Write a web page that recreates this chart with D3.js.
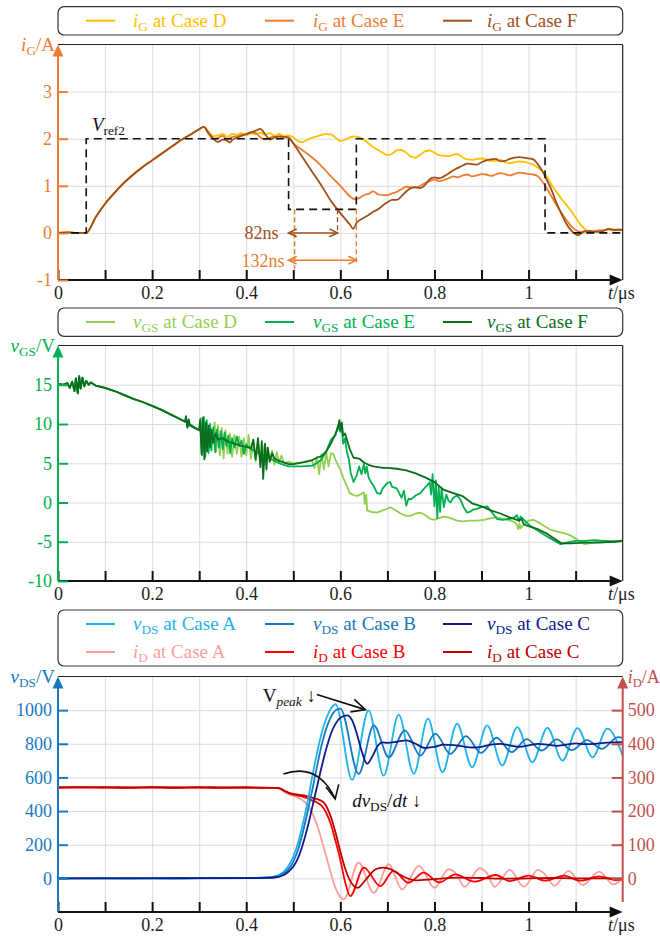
<!DOCTYPE html>
<html lang="en">
<head>
    <meta charset="UTF-8">
    <title>Gate current, gate voltage and switching waveforms</title>
    <style>
        body { margin: 0; background: #fff; }
        svg, svg text, svg tspan { font-family: "Liberation Serif", "DejaVu Serif", "Times New Roman", serif !important; }
        .grid line { stroke: #dcdcdc; stroke-width: 1; }
        .grid .domain { display: none; }
    </style>
</head>
<body>

<svg width="660" height="937" font-family="Liberation Serif"></svg>

<script src="https://cdn.jsdelivr.net/npm/d3@7"></script>
<script>

    // ---------------- data ----------------

    const timeTicks = [0, 0.1, 0.2, 0.3, 0.4, 0.5, 0.6, 0.7, 0.8, 0.9, 1, 1.1];
    const timeLabels = [0, 0.2, 0.4, 0.6, 0.8, 1];

    // panel 1 : gate current iG (A)
    const iGTicks = [-1, 0, 1, 2, 3];
    const iGGrid = [0, 1, 2, 3];
    const iGCases = ['D', 'E', 'F'];

    const iGRise = [[0, 0], [0.02, 0.01], [0.04, 0], [0.06, 0], [0.08, 0.33], [0.1, 0.62], [0.12, 0.85],
        [0.14, 1.06], [0.16, 1.24], [0.18, 1.4], [0.2, 1.54], [0.22, 1.68], [0.24, 1.82], [0.26, 1.96],
        [0.28, 2.08], [0.3, 2.2], [0.31, 2.25]];

    const iG_D = iGRise.concat([[0.32, 2.15], [0.33, 2.05], [0.34, 2.07], [0.35, 2.1], [0.36, 2.04], [0.37, 2.1],
        [0.38, 2.08], [0.39, 2.12], [0.4, 2.07], [0.41, 2.12], [0.42, 2.1], [0.43, 2.13], [0.44, 2.08], [0.45, 2.12],
        [0.46, 2.06], [0.47, 2.1], [0.48, 2.05], [0.49, 2.07], [0.5, 2.03], [0.51, 1.95], [0.52, 1.93], [0.53, 1.98],
        [0.54, 2.02], [0.55, 2.05], [0.56, 2.08], [0.57, 2.1], [0.58, 2.09], [0.59, 2.02], [0.6, 1.95], [0.61, 1.98],
        [0.62, 2.03], [0.63, 2.05], [0.64, 2.03], [0.65, 1.97], [0.66, 1.9], [0.67, 1.82], [0.68, 1.76], [0.69, 1.7],
        [0.7, 1.65], [0.71, 1.68], [0.72, 1.75], [0.73, 1.76], [0.74, 1.7], [0.75, 1.62], [0.76, 1.6], [0.77, 1.66],
        [0.78, 1.73], [0.79, 1.75], [0.8, 1.7], [0.81, 1.65], [0.82, 1.64], [0.83, 1.63], [0.84, 1.66], [0.85, 1.67],
        [0.86, 1.6], [0.87, 1.56], [0.88, 1.55], [0.89, 1.57], [0.9, 1.58], [0.91, 1.56], [0.92, 1.53], [0.93, 1.53],
        [0.94, 1.55], [0.95, 1.5], [0.96, 1.48], [0.97, 1.5], [0.98, 1.52], [0.99, 1.51], [1.0, 1.48], [1.01, 1.45],
        [1.02, 1.38], [1.03, 1.3], [1.04, 1.18], [1.05, 1.0], [1.06, 0.86], [1.07, 0.72], [1.08, 0.6], [1.09, 0.47],
        [1.1, 0.33], [1.11, 0.18], [1.12, 0.08], [1.13, 0.03], [1.14, 0.02], [1.15, 0.04], [1.16, 0.06], [1.17, 0.07],
        [1.18, 0.05], [1.19, 0.06], [1.2, 0.05]]);

    const iG_E = iGRise.concat([[0.32, 2.1], [0.33, 2.0], [0.34, 2.02], [0.35, 2.06], [0.36, 1.98], [0.37, 2.04],
        [0.38, 2.05], [0.39, 2.08], [0.4, 2.1], [0.41, 2.14], [0.42, 2.12], [0.43, 2.03], [0.44, 1.98], [0.45, 2.02],
        [0.46, 2.05], [0.47, 2.0], [0.48, 2.03], [0.49, 2.02], [0.5, 1.9], [0.52, 1.75], [0.54, 1.6], [0.56, 1.42],
        [0.58, 1.2], [0.6, 1.0], [0.62, 0.78], [0.63, 0.72], [0.64, 0.74], [0.65, 0.8], [0.66, 0.83], [0.67, 0.88],
        [0.68, 0.82], [0.69, 0.8], [0.7, 0.8], [0.71, 0.84], [0.72, 0.87], [0.73, 0.93], [0.74, 0.98], [0.75, 0.97],
        [0.76, 0.96], [0.77, 1.0], [0.78, 1.06], [0.79, 1.1], [0.8, 1.13], [0.81, 1.1], [0.82, 1.12], [0.83, 1.16],
        [0.84, 1.2], [0.85, 1.18], [0.86, 1.22], [0.87, 1.24], [0.88, 1.2], [0.89, 1.22], [0.9, 1.25], [0.91, 1.24],
        [0.92, 1.21], [0.93, 1.24], [0.94, 1.27], [0.95, 1.25], [0.96, 1.22], [0.97, 1.25], [0.98, 1.28], [0.99, 1.27],
        [1.0, 1.25], [1.01, 1.24], [1.02, 1.2], [1.03, 1.08], [1.04, 0.92], [1.05, 0.75], [1.06, 0.58], [1.07, 0.42],
        [1.08, 0.28], [1.09, 0.15], [1.1, 0.06], [1.11, 0.02], [1.12, 0.04], [1.13, 0.01], [1.14, 0.03], [1.15, 0.06],
        [1.16, 0.05], [1.17, 0.09], [1.18, 0.06], [1.19, 0.08], [1.2, 0.06]]);

    const iG_F = iGRise.concat([[0.32, 2.12], [0.33, 2.0], [0.34, 1.93], [0.35, 1.98], [0.36, 1.95], [0.365, 1.92],
        [0.37, 1.97], [0.38, 2.02], [0.39, 2.06], [0.4, 2.1], [0.41, 2.13], [0.42, 2.17], [0.43, 2.21], [0.44, 2.1],
        [0.45, 1.98], [0.46, 2.03], [0.47, 2.05], [0.48, 2.04], [0.49, 2.03], [0.5, 1.9], [0.52, 1.6], [0.54, 1.3],
        [0.56, 1.0], [0.58, 0.68], [0.6, 0.42], [0.62, 0.18], [0.627, 0.09], [0.635, 0.22], [0.65, 0.32], [0.66, 0.38],
        [0.67, 0.45], [0.68, 0.5], [0.69, 0.58], [0.7, 0.65], [0.71, 0.7], [0.72, 0.7], [0.73, 0.78], [0.74, 0.88],
        [0.75, 0.95], [0.76, 0.97], [0.77, 0.95], [0.78, 1.02], [0.79, 1.14], [0.8, 1.18], [0.81, 1.16], [0.82, 1.2],
        [0.83, 1.26], [0.84, 1.33], [0.85, 1.38], [0.86, 1.43], [0.87, 1.47], [0.88, 1.46], [0.89, 1.45], [0.9, 1.5],
        [0.91, 1.54], [0.92, 1.56], [0.93, 1.57], [0.94, 1.52], [0.95, 1.53], [0.96, 1.57], [0.97, 1.6], [0.98, 1.61],
        [0.99, 1.6], [1.0, 1.58], [1.01, 1.56], [1.02, 1.45], [1.03, 1.3], [1.04, 1.1], [1.05, 0.88], [1.06, 0.62],
        [1.07, 0.4], [1.08, 0.2], [1.09, 0.06], [1.1, -0.03], [1.105, -0.05], [1.11, -0.02], [1.12, 0.03], [1.13, 0.04],
        [1.14, 0.03], [1.15, 0.02], [1.16, 0.05], [1.17, 0.08], [1.18, 0.07], [1.19, 0.06], [1.2, 0.07]]);

    const vRef2 = [[0, 0], [0.06, 0], [0.06, 2], [0.49, 2], [0.49, 0.5], [0.634, 0.5], [0.634, 2],
        [1.035, 2], [1.035, 0], [1.2, 0]];

    // delay markers: start time, end times, arrow levels, labels
    const delayStart = 0.49;
    const delayEnds = [0.594, 0.634];
    const delayLevels = [0, -0.58];
    const delayLabels = ['82ns', '132ns'];
    const delayGuides = [[0.503, 0.5, -0.76], [0.594, 0.5, -0.02], [0.634, 0.5, -0.64]];

    // panel 2 : gate-source voltage vGS (V)
    const vGSTicks = [-10, -5, 0, 5, 10, 15];
    const vGSGrid = [-5, 0, 5, 10, 15];
    const vGSCases = ['D', 'E', 'F'];

    const vGSStart = [[0, 15.1], [0.01, 15], [0.02, 15.2], [0.025, 14.6], [0.03, 15.4], [0.035, 14.2],
        [0.038, 15.8], [0.042, 13.9], [0.045, 16.1], [0.048, 14.5], [0.052, 15.9], [0.056, 14.8], [0.06, 15.5],
        [0.065, 15], [0.07, 15.3], [0.08, 14.9], [0.1, 14.6], [0.12, 14.2], [0.14, 13.7], [0.16, 13.2],
        [0.18, 12.8], [0.2, 12.3], [0.22, 11.8], [0.24, 11.2], [0.26, 10.6], [0.27, 10.3]];

    const vGS_D = vGSStart.concat([[0.272, 10.5], [0.28, 9.9], [0.29, 9.6], [0.3, 9.2], [0.31, 8.9], [0.32, 8.6],
        [0.33, 8.3], [0.333, 10.2], [0.336, 6.5], [0.34, 9.8], [0.344, 6], [0.348, 9.5], [0.352, 5.6], [0.356, 9.2],
        [0.36, 6.2], [0.365, 8.8], [0.37, 5.8], [0.375, 8.6], [0.38, 6.2], [0.385, 8.4], [0.39, 5.8], [0.395, 8.2],
        [0.4, 6], [0.405, 8.6], [0.41, 5.6], [0.415, 7.8], [0.42, 5.2], [0.425, 7.6], [0.43, 5.4], [0.435, 7.2],
        [0.44, 4.8], [0.445, 7], [0.45, 5.2], [0.455, 6.6], [0.46, 4.8], [0.465, 6.4], [0.47, 5], [0.475, 6],
        [0.48, 5], [0.49, 5.2], [0.5, 5], [0.51, 5], [0.52, 5.1], [0.53, 5.2], [0.54, 5.3], [0.545, 4.4], [0.55, 5.8],
        [0.555, 3.6], [0.56, 6.2], [0.565, 4.2], [0.57, 6.4], [0.575, 4.6], [0.58, 6.3], [0.585, 6.2], [0.59, 5.4],
        [0.6, 4.2], [0.607, 3.0], [0.614, 2.1], [0.62, 1.2], [0.63, 0.9], [0.636, 0.85], [0.645, 1.1], [0.65, 1.3],
        [0.652, -0.2], [0.655, 1.0], [0.657, -1.0], [0.665, -1.2], [0.678, -1.3], [0.69, -1.0], [0.7, -0.8],
        [0.706, -0.6], [0.715, -0.9], [0.728, -1.4], [0.74, -1.7], [0.749, -1.7], [0.76, -1.4], [0.77, -1.3],
        [0.78, -1.6], [0.791, -2.1], [0.8, -2.2], [0.81, -2.0], [0.82, -1.8], [0.83, -1.9], [0.848, -2.3],
        [0.86, -2.4], [0.876, -2.3], [0.89, -2.3], [0.905, -2.2], [0.92, -2.0], [0.933, -1.9], [0.945, -2.1],
        [0.961, -2.3], [0.97, -2.5], [0.975, -2.8], [0.978, -3.4], [0.981, -2.7], [0.983, -3.3], [0.99, -2.8],
        [1.0, -2.3], [1.01, -2.2], [1.02, -2.5], [1.033, -3.0], [1.047, -3.5], [1.061, -3.7], [1.075, -3.9],
        [1.089, -4.2], [1.1, -4.6], [1.11, -5.0], [1.118, -5.3], [1.13, -5.2], [1.15, -5.0], [1.17, -4.9],
        [1.19, -5.0], [1.2, -4.8]]);

    const vGS_E = vGSStart.concat([[0.272, 10.8], [0.275, 9.7], [0.28, 10], [0.29, 9.6], [0.3, 9.2], [0.303, 10.7],
        [0.306, 6], [0.31, 10.9], [0.313, 5.8], [0.316, 10.5], [0.32, 6.3], [0.323, 10], [0.326, 6.6], [0.33, 9.6],
        [0.334, 6.4], [0.338, 9.3], [0.342, 7], [0.346, 9.1], [0.35, 6.8], [0.354, 8.9], [0.358, 7.2], [0.362, 8.5],
        [0.366, 6.3], [0.37, 8.2], [0.375, 7], [0.38, 8.4], [0.385, 7.2], [0.39, 7.9], [0.395, 6.2], [0.4, 7.4],
        [0.41, 6.8], [0.42, 6.5], [0.43, 6.2], [0.44, 5.9], [0.45, 5.6], [0.46, 5.3], [0.47, 5], [0.48, 4.8],
        [0.49, 4.6], [0.5, 4.6], [0.52, 4.6], [0.54, 4.7], [0.55, 5], [0.56, 5.5], [0.57, 6.5], [0.58, 8],
        [0.59, 8.6], [0.595, 9.8], [0.6, 9], [0.603, 9.5], [0.606, 7.5], [0.61, 8.2], [0.614, 6.4], [0.618, 5.5],
        [0.622, 3.8], [0.628, 2.6], [0.635, 3.5], [0.64, 4.6], [0.645, 3.6], [0.65, 4.9], [0.653, 3.7], [0.656, 4.6],
        [0.66, 3.2], [0.665, 2.6], [0.671, 2.1], [0.678, 1.2], [0.685, 1.1], [0.69, 1.8], [0.7, 2.5], [0.706, 2.6],
        [0.71, 2.0], [0.72, 1.8], [0.73, 0.6], [0.735, 1.5], [0.74, -0.4], [0.745, 0.5], [0.75, 0.4], [0.76, 0.9],
        [0.77, 1.2], [0.777, 1.7], [0.785, 2.2], [0.79, 2.6], [0.793, 1.0], [0.796, 3.6], [0.8, -0.5], [0.803, 2.8],
        [0.806, -2.0], [0.809, 2.0], [0.812, -1.2], [0.815, 1.8], [0.82, -0.6], [0.825, 1.0], [0.83, 0.2],
        [0.834, 0.0], [0.84, 0.6], [0.848, 0.9], [0.855, 0.4], [0.862, -0.6], [0.869, -1.28], [0.875, -1.2],
        [0.882, -0.9], [0.89, -0.8], [0.9, -0.6], [0.912, -0.5], [0.92, -1.1], [0.933, -2.1], [0.945, -2.2],
        [0.955, -2.1], [0.961, -2.1], [0.97, -1.9], [0.975, -1.6], [0.98, -2.4], [0.983, -1.8], [0.99, -2.2],
        [1.004, -3.0], [1.02, -3.6], [1.033, -4.1], [1.05, -4.7], [1.068, -5.3], [1.08, -5.1], [1.1, -4.9],
        [1.12, -4.9], [1.14, -4.8], [1.16, -4.9], [1.18, -5.0], [1.2, -4.9]]);

    const vGS_F = vGSStart.concat([[0.272, 11], [0.275, 9.5], [0.278, 10.6], [0.28, 9.8], [0.29, 9.5], [0.3, 9.2],
        [0.302, 10.5], [0.305, 6.2], [0.308, 10.8], [0.311, 5.5], [0.314, 10.2], [0.317, 6.5], [0.32, 9.8],
        [0.323, 7], [0.326, 9.3], [0.33, 7.6], [0.335, 8.8], [0.34, 8], [0.35, 8.2], [0.36, 7.8], [0.37, 7.6],
        [0.38, 7.4], [0.39, 7.2], [0.4, 7.1], [0.41, 6.9], [0.415, 8], [0.42, 5.5], [0.425, 8.2], [0.43, 4.5],
        [0.433, 7.8], [0.436, 3], [0.44, 7.5], [0.443, 4.2], [0.446, 7], [0.45, 5.2], [0.455, 6.3], [0.46, 5.6],
        [0.47, 5.3], [0.48, 5.1], [0.49, 4.9], [0.5, 4.9], [0.52, 5.1], [0.54, 5.4], [0.55, 5.7], [0.56, 5.9],
        [0.57, 6.5], [0.58, 7.5], [0.59, 8.8], [0.595, 9.6], [0.598, 10.5], [0.6, 9.2], [0.603, 10.2], [0.606, 8.5],
        [0.61, 8.8], [0.614, 8], [0.62, 6.8], [0.628, 5.7], [0.64, 5.6], [0.65, 5.1], [0.66, 4.8], [0.67, 4.6],
        [0.68, 4.5], [0.69, 4.4], [0.7, 4.4], [0.72, 4.3], [0.74, 4.1], [0.76, 3.7], [0.78, 3.2], [0.8, 2.6],
        [0.82, 1.6], [0.84, 1.2], [0.86, 0.8], [0.88, -0.1], [0.9, -0.5], [0.92, -1.0], [0.94, -1.4], [0.96, -1.9],
        [0.98, -2.3], [0.985, -2.1], [0.99, -2.8], [1.0, -3.0], [1.02, -3.4], [1.04, -4.0], [1.06, -4.8],
        [1.07, -5.2], [1.09, -5.2], [1.12, -5.1], [1.15, -5.1], [1.18, -5.0], [1.2, -4.9]]);

    // panel 3 : drain-source voltage vDS (V) and drain current iD (A)
    const vDSTicks = [0, 200, 400, 600, 800, 1000];
    const iDTicks = [0, 100, 200, 300, 400, 500];
    const dsCases = ['A', 'B', 'C'];

    const vDS_A = [[0, 0], [0.1, 1], [0.2, 0], [0.3, 1], [0.4, 2], [0.44, 5], [0.46, 12], [0.48, 40], [0.49, 75],
        [0.5, 130], [0.51, 210], [0.52, 320], [0.53, 450], [0.54, 600], [0.55, 740], [0.56, 860], [0.57, 950],
        [0.58, 1010], [0.59, 1035], [0.625, 585], [0.66, 999], [0.692, 611], [0.724, 973], [0.756, 621],
        [0.786, 949], [0.817, 631], [0.848, 919], [0.88, 661], [0.912, 909], [0.944, 671], [0.976, 899],
        [1.008, 690], [1.04, 895], [1.072, 700], [1.104, 893], [1.136, 720], [1.167, 890], [1.2, 730]];

    const vDS_B = [[0, 0], [0.1, 0], [0.2, 1], [0.3, 0], [0.4, 2], [0.44, 4], [0.46, 8], [0.48, 30], [0.49, 55],
        [0.5, 100], [0.51, 170], [0.52, 270], [0.53, 390], [0.54, 520], [0.55, 660], [0.56, 790], [0.57, 890],
        [0.58, 960], [0.59, 1000], [0.6, 1009], [0.639, 621], [0.671, 909], [0.703, 720], [0.737, 880],
        [0.77, 730], [0.802, 860], [0.834, 740], [0.867, 845], [0.899, 746], [0.932, 836], [0.964, 750],
        [0.996, 828], [1.028, 760], [1.06, 826], [1.092, 762], [1.124, 822], [1.156, 770], [1.19, 840], [1.2, 835]];

    const vDS_C = [[0, 0], [0.1, 0], [0.2, 0], [0.3, 1], [0.4, 1], [0.44, 3], [0.46, 5], [0.48, 20], [0.49, 40],
        [0.5, 70], [0.51, 120], [0.52, 200], [0.53, 300], [0.54, 420], [0.55, 540], [0.56, 660], [0.57, 770],
        [0.58, 860], [0.59, 920], [0.6, 955], [0.614, 969], [0.625, 940], [0.635, 860], [0.645, 760], [0.657, 681],
        [0.668, 725], [0.68, 790], [0.69, 808], [0.7, 806], [0.72, 812], [0.74, 820], [0.76, 800], [0.78, 775],
        [0.8, 782], [0.82, 795], [0.84, 792], [0.86, 785], [0.88, 778], [0.9, 782], [0.92, 795], [0.94, 800],
        [0.96, 790], [0.98, 782], [1.0, 790], [1.02, 800], [1.04, 795], [1.06, 788], [1.08, 795], [1.1, 802],
        [1.12, 798], [1.14, 800], [1.16, 805], [1.18, 808], [1.2, 810]];

    const iD_A = [[0, 270], [0.05, 272], [0.1, 269], [0.15, 271], [0.2, 270], [0.25, 272], [0.3, 269], [0.35, 271],
        [0.4, 270], [0.46, 269], [0.47, 266], [0.48, 258], [0.49, 250], [0.5, 245], [0.51, 240], [0.52, 232],
        [0.53, 218], [0.54, 195], [0.55, 160], [0.56, 115], [0.57, 65], [0.58, 15], [0.59, -30], [0.6, -55],
        [0.607, -63], [0.639, 47], [0.671, -43], [0.703, 42], [0.731, -33], [0.767, 37], [0.8, -28], [0.83, 27],
        [0.845, 15], [0.864, -25], [0.896, 30], [0.91, 18], [0.928, -25], [0.96, 25], [0.99, -25], [1.02, 25],
        [1.035, 12], [1.055, -22], [1.085, 22], [1.115, -20], [1.15, 20], [1.18, -18], [1.2, 0]];

    const iD_B = [[0, 270], [0.05, 270], [0.1, 271], [0.15, 269], [0.2, 270], [0.25, 270], [0.3, 271], [0.35, 269],
        [0.4, 270], [0.46, 269], [0.47, 268], [0.48, 260], [0.49, 253], [0.5, 249], [0.51, 246], [0.52, 243],
        [0.53, 238], [0.54, 232], [0.55, 226], [0.56, 216], [0.57, 195], [0.58, 160], [0.59, 110], [0.6, 55],
        [0.61, -10], [0.621, -53], [0.65, 32], [0.685, -23], [0.713, 22], [0.745, -13], [0.777, 17], [0.81, -12],
        [0.845, 12], [0.885, -10], [0.93, 10], [0.96, -8], [1.0, 8], [1.035, -7], [1.075, 8], [1.11, -7],
        [1.15, 6], [1.185, -5], [1.2, -3]];

    const iD_C = [[0, 270], [0.05, 271], [0.1, 270], [0.15, 270], [0.2, 271], [0.25, 269], [0.3, 270], [0.35, 270],
        [0.4, 270], [0.46, 269], [0.47, 268], [0.48, 262], [0.49, 255], [0.5, 251], [0.51, 249], [0.52, 247],
        [0.53, 244], [0.54, 240], [0.55, 236], [0.56, 230], [0.565, 225], [0.57, 215], [0.575, 200], [0.58, 182],
        [0.59, 135], [0.6, 80], [0.61, 30], [0.62, -5], [0.637, -28], [0.655, -2], [0.675, 27], [0.69, 32],
        [0.705, 28], [0.73, 8], [0.76, -6], [0.8, -2], [0.85, 2], [0.9, 1], [0.95, -1], [1.0, 0], [1.05, 1],
        [1.1, 0], [1.15, 0], [1.2, 0]];

    // annotation anchors in data units (t, vDS)
    const peakArrow = [[0.550, 1093], [0.653, 1003]];
    const dvdtArrow = [[0.479, 621], [0.553, 690], [0.589, 472]];

    // ---------------- styles / layout ----------------

    const serif = '"Liberation Serif", "DejaVu Serif", serif';

    const lineColors = {
        iG: ['#FFC000', '#ED7D31', '#A0501A'],
        vGS: ['#92D050', '#00B050', '#0A6E1E'],
        vDS: ['#1EB2EE', '#1878C0', '#0B1A8C'],
        iD: ['#FF9C9C', '#FF0000', '#C00000']
    };
    const axisColors = { iG: '#ED7D31', vGS: '#00B050', vDS: '#1878C0', iD: '#C0504D' };

    const plotLeft = 58;
    const plotRight = 622.7;
    const plotHeight = 235.5;
    const legendLineX = [86, 265, 443];
    const legendTextX = [133, 313, 487];

    const svg = d3.select('svg');

    const x = d3.scaleLinear().domain([0, 1.2]).range([plotLeft, plotRight]);

    // writes a text made of parts: [string, kind] with kind containing 'it' and/or 'sub'
    function rich(sel, parts) {
        let shifted = false;
        sel.style('font-family', serif);
        parts.forEach(function (p) {
            const t = sel.append('tspan').text(p[0]);
            const isSub = p[1].indexOf('sub') >= 0;
            if (p[1].indexOf('it') >= 0) t.style('font-style', 'italic');
            if (isSub) t.style('font-size', '70%');
            if (isSub && !shifted) { t.attr('dy', 4); shifted = true; }
            else if (!isSub && shifted) { t.attr('dy', -4); shifted = false; }
        });
        return sel;
    }

    function openHead(g, from, tip, color, len) {
        const a = Math.atan2(tip[1] - from[1], tip[0] - from[0]) + Math.PI;
        const p1 = [tip[0] + len * Math.cos(a - 0.45), tip[1] + len * Math.sin(a - 0.45)];
        const p2 = [tip[0] + len * Math.cos(a + 0.45), tip[1] + len * Math.sin(a + 0.45)];
        g.append('path')
            .attr('d', 'M' + p1 + 'L' + tip + 'L' + p2)
            .attr('fill', 'none')
            .attr('stroke', color)
            .attr('stroke-width', 1.6);
    }

    function drawLegend(top, rows) {
        const h = rows.length === 1 ? 28.3 : 56;
        svg.append('rect')
            .attr('x', plotLeft).attr('y', top)
            .attr('width', plotRight - plotLeft).attr('height', h)
            .attr('rx', 6)
            .attr('fill', '#fff')
            .attr('stroke', '#333')
            .attr('stroke-width', 1.2);
        rows.forEach(function (row, r) {
            const cy = top + 14 + r * 28;
            row.forEach(function (entry, i) {
                svg.append('line')
                    .attr('x1', legendLineX[i]).attr('x2', legendLineX[i] + 29)
                    .attr('y1', cy).attr('y2', cy)
                    .attr('stroke', entry.color)
                    .attr('stroke-width', 2);
                rich(svg.append('text')
                    .attr('x', legendTextX[i]).attr('y', cy + 6)
                    .attr('fill', entry.color)
                    .style('font-size', '19px'), entry.parts);
            });
        });
    }

    function legendRow(symbol, sub, cases, colors) {
        return cases.map(function (c, i) {
            return { color: colors[i], parts: [[symbol, 'it'], [sub, 'sub'], [' at Case ' + c, '']] };
        });
    }

    function addPanel(top, yDomain, gridValues) {
        const bottom = top + plotHeight;
        const y = d3.scaleLinear().domain(yDomain).range([bottom, top]);
        const g = svg.append('g');

        g.append('g')
            .attr('class', 'grid')
            .attr('transform', 'translate(0,' + bottom + ')')
            .call(d3.axisBottom(x).tickValues(timeTicks.slice(1)).tickSize(-plotHeight).tickFormat(''));

        g.append('g')
            .attr('class', 'grid')
            .attr('transform', 'translate(' + plotLeft + ',0)')
            .call(d3.axisLeft(y).tickValues(gridValues).tickSize(-(plotRight - plotLeft)).tickFormat(''));

        return { g: g, y: y, top: top, bottom: bottom };
    }

    function drawSeries(panel, yScale, series, colors, curve) {
        const line = d3.line()
            .x(function (d) { return x(d[0]); })
            .y(function (d) { return yScale(d[1]); })
            .curve(curve);
        series.forEach(function (s, i) {
            panel.g.append('path')
                .datum(s)
                .attr('d', line)
                .attr('fill', 'none')
                .attr('stroke', colors[i])
                .attr('stroke-width', 1.8)
                .attr('stroke-linejoin', 'round');
        });
    }

    function styleAxis(axisG, color, tickWidth) {
        axisG.attr('font-family', null);
        axisG.select('.domain').remove();
        axisG.selectAll('.tick line').attr('stroke', color).attr('stroke-width', tickWidth);
        axisG.selectAll('.tick text').attr('fill', color === '#111' ? '#222' : color)
            .style('font-size', '18px')
            .style('font-family', serif);
    }

    function drawFrame(panel, yTicks, color, titleParts, rightFrame) {
        const g = panel.g;

        // top (and right) frame
        g.append('line')
            .attr('x1', plotLeft).attr('x2', plotRight)
            .attr('y1', panel.top).attr('y2', panel.top)
            .attr('stroke', '#222').attr('stroke-width', 1.2);
        if (rightFrame) {
            g.append('line')
                .attr('x1', plotRight).attr('x2', plotRight)
                .attr('y1', panel.top).attr('y2', panel.bottom)
                .attr('stroke', '#222').attr('stroke-width', 1.2);
        }

        // x axis
        const xAxisG = g.append('g')
            .attr('transform', 'translate(0,' + panel.bottom + ')')
            .call(d3.axisBottom(x)
                .tickValues(timeTicks)
                .tickSize(-10)
                .tickPadding(6)
                .tickFormat(function (d) { return timeLabels.indexOf(d) >= 0 ? String(d) : ''; }));
        styleAxis(xAxisG, '#111', 2);

        g.append('line')
            .attr('x1', plotLeft).attr('x2', plotRight - 10)
            .attr('y1', panel.bottom).attr('y2', panel.bottom)
            .attr('stroke', '#111').attr('stroke-width', 2);
        g.append('path')
            .attr('d', 'M' + plotRight + ',' + panel.bottom + 'L' + (plotRight - 13) + ',' + (panel.bottom - 5.5) +
                'L' + (plotRight - 13) + ',' + (panel.bottom + 5.5) + 'Z')
            .attr('fill', '#111');

        rich(g.append('text')
            .attr('x', 608).attr('y', panel.bottom + 19)
            .attr('fill', '#222')
            .style('font-size', '18px'), [['t', 'it'], ['/\u03bcs', '']]);

        // y axis
        const yAxisG = g.append('g')
            .attr('transform', 'translate(' + plotLeft + ',0)')
            .call(d3.axisLeft(panel.y)
                .tickValues(yTicks)
                .tickSize(-10)
                .tickPadding(6)
                .tickFormat(function (d) { return String(d); }));
        styleAxis(yAxisG, color, 2);

        g.append('line')
            .attr('x1', plotLeft).attr('x2', plotLeft)
            .attr('y1', panel.bottom).attr('y2', panel.top + 10)
            .attr('stroke', color).attr('stroke-width', 2);
        g.append('path')
            .attr('d', 'M' + plotLeft + ',' + panel.top + 'L' + (plotLeft - 5.5) + ',' + (panel.top + 12) +
                'L' + (plotLeft + 5.5) + ',' + (panel.top + 12) + 'Z')
            .attr('fill', color);

        rich(g.append('text')
            .attr('x', 55).attr('y', panel.top + 6)
            .attr('text-anchor', 'end')
            .attr('fill', color)
            .style('font-size', '19px'), titleParts);
    }

    // ---------------- panel 1 : iG ----------------

    drawLegend(6.7, [legendRow('i', 'G', iGCases, lineColors.iG)]);

    const p1 = addPanel(44.5, [-1, 4], iGGrid);
    drawSeries(p1, p1.y, [iG_D, iG_E, iG_F], lineColors.iG, d3.curveMonotoneX);

    p1.g.append('path')
        .datum(vRef2)
        .attr('d', d3.line().x(function (d) { return x(d[0]); }).y(function (d) { return p1.y(d[1]); }))
        .attr('fill', 'none')
        .attr('stroke', '#111')
        .attr('stroke-width', 1.6)
        .attr('stroke-dasharray', '8,5');

    rich(p1.g.append('text')
        .attr('x', x(0.072)).attr('y', p1.y(2) - 7.5)
        .attr('fill', '#111')
        .style('font-size', '19px'), [['V', 'it'], ['ref2', 'sub']]);

    const delayColors = [lineColors.iG[2], lineColors.iG[1]];

    delayGuides.forEach(function (d, i) {
        p1.g.append('line')
            .attr('x1', x(d[0])).attr('x2', x(d[0]))
            .attr('y1', p1.y(d[1])).attr('y2', p1.y(d[2]))
            .attr('stroke', i === 1 ? delayColors[0] : delayColors[1])
            .attr('stroke-width', 1.3)
            .attr('stroke-dasharray', '5,3');
    });

    delayEnds.forEach(function (end, i) {
        const yy = p1.y(delayLevels[i]);
        const a = [x(delayStart), yy];
        const b = [x(end), yy];
        p1.g.append('line')
            .attr('x1', a[0]).attr('x2', b[0])
            .attr('y1', yy).attr('y2', yy)
            .attr('stroke', delayColors[i]).attr('stroke-width', 1.5);
        openHead(p1.g, a, b, delayColors[i], 9);
        openHead(p1.g, b, a, delayColors[i], 9);
        p1.g.append('text')
            .attr('x', a[0] - 10 + i * 6).attr('y', yy + 6.5)
            .attr('text-anchor', 'end')
            .attr('fill', delayColors[i])
            .style('font-size', '18px')
            .style('font-family', serif)
            .text(delayLabels[i]);
    });

    drawFrame(p1, iGTicks, axisColors.iG, [['i', 'it'], ['G', 'sub'], ['/A', '']], true);

    // ---------------- panel 2 : vGS ----------------

    drawLegend(308, [legendRow('v', 'GS', vGSCases, lineColors.vGS)]);

    const p2 = addPanel(345.5, [-10, 20], vGSGrid);
    drawSeries(p2, p2.y, [vGS_D, vGS_E, vGS_F], lineColors.vGS, d3.curveLinear);
    drawFrame(p2, vGSTicks, axisColors.vGS, [['v', 'it'], ['GS', 'sub'], ['/V', '']], true);

    // ---------------- panel 3 : vDS and iD ----------------

    drawLegend(610, [
        legendRow('v', 'DS', dsCases, lineColors.vDS),
        legendRow('i', 'D', dsCases, lineColors.iD)
    ]);

    const p3 = addPanel(676.5, [-200, 1200], vDSTicks);
    const yRight = d3.scaleLinear().domain([-100, 600]).range([p3.bottom, p3.top]);

    drawSeries(p3, yRight, [iD_A, iD_B, iD_C], lineColors.iD, d3.curveMonotoneX);
    drawSeries(p3, p3.y, [vDS_A, vDS_B, vDS_C], lineColors.vDS, d3.curveMonotoneX);

    // V_peak annotation
    const pkA = [x(peakArrow[0][0]), p3.y(peakArrow[0][1])];
    const pkB = [x(peakArrow[1][0]), p3.y(peakArrow[1][1])];
    p3.g.append('line')
        .attr('x1', pkA[0]).attr('y1', pkA[1])
        .attr('x2', pkB[0]).attr('y2', pkB[1])
        .attr('stroke', '#111').attr('stroke-width', 1.6);
    openHead(p3.g, pkA, pkB, '#111', 15);
    rich(p3.g.append('text')
        .attr('x', pkA[0] - 54).attr('y', pkA[1] + 7.5)
        .attr('fill', '#111')
        .style('font-size', '19px'), [['V', ''], ['peak', 'it sub'], [' \u2193', '']]);

    // dv/dt annotation
    const dv = dvdtArrow.map(function (d) { return [x(d[0]), p3.y(d[1])]; });
    p3.g.append('path')
        .attr('d', 'M' + dv[0] + 'Q' + dv[1] + ' ' + dv[2])
        .attr('fill', 'none')
        .attr('stroke', '#111').attr('stroke-width', 1.6);
    openHead(p3.g, [dv[2][0] - 3, dv[2][1] - 14], dv[2], '#111', 15);
    rich(p3.g.append('text')
        .attr('x', dv[2][0] + 17).attr('y', dv[2][1] + 8.5)
        .attr('fill', '#111')
        .style('font-size', '19px'), [['dv', 'it'], ['DS', 'sub'], ['/', ''], ['dt', 'it'], [' \u2193', '']]);

    drawFrame(p3, vDSTicks, axisColors.vDS, [['v', 'it'], ['DS', 'sub'], ['/V', '']], false);

    // right axis for iD
    const rAxisG = p3.g.append('g')
        .attr('transform', 'translate(' + plotRight + ',0)')
        .call(d3.axisRight(yRight)
            .tickValues(iDTicks)
            .tickSize(-11)
            .tickPadding(5)
            .tickFormat(function (d) { return String(d); }));
    styleAxis(rAxisG, axisColors.iD, 2);

    p3.g.append('line')
        .attr('x1', plotRight).attr('x2', plotRight)
        .attr('y1', p3.bottom - 10).attr('y2', p3.top + 10)
        .attr('stroke', axisColors.iD).attr('stroke-width', 2);
    p3.g.append('path')
        .attr('d', 'M' + plotRight + ',' + p3.top + 'L' + (plotRight - 5.5) + ',' + (p3.top + 12) +
            'L' + (plotRight + 5.5) + ',' + (p3.top + 12) + 'Z')
        .attr('fill', axisColors.iD);
    rich(p3.g.append('text')
        .attr('x', plotRight + 5).attr('y', p3.top + 6)
        .attr('fill', axisColors.iD)
        .style('font-size', '18px'), [['i', 'it'], ['D', 'sub'], ['/A', '']]);

</script>

</body>
</html>
